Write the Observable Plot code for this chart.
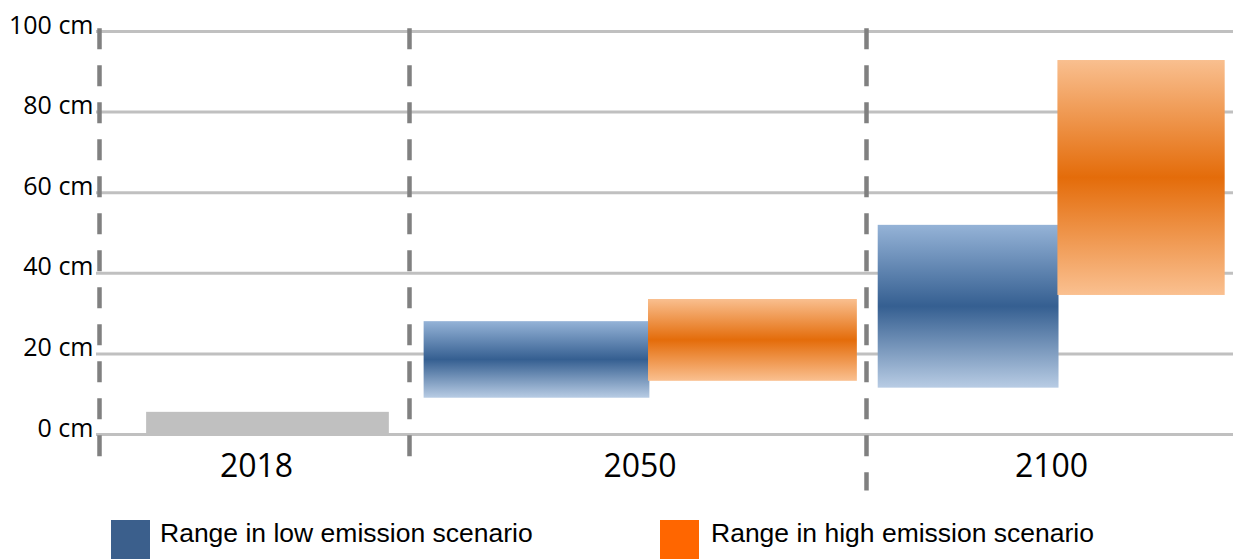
<!DOCTYPE html>
<html>
<head>
<meta charset="utf-8">
<script src="https://cdn.jsdelivr.net/npm/d3@7"></script>
<script src="https://cdn.jsdelivr.net/npm/@observablehq/plot@0.6"></script>
<style>
  html, body { margin: 0; padding: 0; background: #fff; }
  #wrap { width: 1233px; height: 559px; position: relative; overflow: hidden; }
  #legend { position: relative; width: 1233px; height: 54px; font-family: "Liberation Sans", Arial, sans-serif; font-size: 26.5px; color: #000; }
  .sw { position: absolute; top: 15px; width: 39px; height: 39px; }
  .lab { position: absolute; top: 15px; line-height: 26px; white-space: nowrap; }
</style>
</head>
<body>
<div id="wrap">
  <div id="chart"></div>
  <div id="legend">
    <div class="sw" style="left:111px;background:#3b5f8c"></div>
    <div class="lab" style="left:160px">Range in low emission scenario</div>
    <div class="sw" style="left:660px;background:#ff6600"></div>
    <div class="lab" style="left:711px">Range in high emission scenario</div>
  </div>
</div>
<script>
// Sea-level rise (cm): observed level and projected ranges per scenario
const years = ["2018", "2050", "2100"];
const observedYear = "2018";
const observedRise = 5.5;
const projectionYears = ["2050", "2100"];
const lowMin = [9.0, 11.5];
const lowMax = [28.0, 51.9];
const highMin = [13.2, 34.5];
const highMax = [33.5, 92.8];
const yTicks = [0, 20, 40, 60, 80, 100];

// Category slots are separated by dashed rules; bars sit inside each slot
const slot = (year) => years.indexOf(year);
const lowRows = projectionYears.map((year, i) => ({year, min: lowMin[i], max: lowMax[i]}));
const highRows = projectionYears.map((year, i) => ({year, min: highMin[i], max: highMax[i]}));
const separators = d3.range(years.length);
const separatorBottoms = [-6, -8.2, -14];

const chart = Plot.plot({
  width: 1233,
  height: 505,
  marginTop: 31,
  marginBottom: 71,
  marginLeft: 99,
  marginRight: 0,
  style: {fontFamily: "'Open Sans', sans-serif", background: "#fff", color: "#000"},
  x: {type: "linear", domain: [0, 1, 2, 3], range: [99, 409, 866, 1232], axis: null},
  y: {domain: [0, 100], axis: null},
  marks: [
    Plot.ruleY(yTicks, {y: d => d, stroke: "#c0c0c0", strokeWidth: 3, insetLeft: -3}),
    Plot.rect([observedRise], {
      x1: () => slot(observedYear) + 0.152,
      x2: () => slot(observedYear) + 0.935,
      y1: 0, y2: d => d,
      fill: "#c0c0c0"
    }),
    Plot.rect(lowRows, {
      x1: d => slot(d.year) + 0.032,
      x2: d => slot(d.year) + 0.526,
      y1: "min", y2: "max",
      fill: "url(#lowGradient)"
    }),
    Plot.rect(highRows, {
      x1: d => slot(d.year) + 0.523,
      x2: d => slot(d.year) + 0.98,
      y1: "min", y2: "max",
      fill: "url(#highGradient)"
    }),
    Plot.ruleX(separators, {
      x: d => d,
      y1: 100.7,
      y2: (d, i) => separatorBottoms[i],
      stroke: "#808080",
      strokeWidth: 4.5,
      strokeDasharray: "21,16"
    }),
    Plot.text(yTicks, {
      x: 0, y: d => d,
      text: d => `${d} cm`,
      textAnchor: "end",
      dx: -6, dy: -6,
      fontSize: 25,
      fill: "#000"
    }),
    Plot.text(years, {
      x: (d, i) => i + 0.5,
      text: d => d,
      frameAnchor: "bottom",
      lineAnchor: "top",
      dx: 2,
      dy: 20,
      fontSize: 32,
      fill: "#000"
    })
  ]
});

// Vertical gradients used by the scenario bars
const defs = d3.select(chart).insert("defs", ":first-child");
function gradient(id, stops) {
  const g = defs.append("linearGradient")
    .attr("id", id).attr("x1", 0).attr("y1", 0).attr("x2", 0).attr("y2", 1);
  stops.forEach(([offset, color]) => g.append("stop").attr("offset", offset).attr("stop-color", color));
}
gradient("lowGradient", [[0, "#95b3d7"], [0.5, "#355f91"], [1, "#b8cce4"]]);
gradient("highGradient", [[0, "#f9bf8f"], [0.5, "#e46c0a"], [1, "#fac090"]]);

document.getElementById("chart").appendChild(chart);
</script>
</body>
</html>
